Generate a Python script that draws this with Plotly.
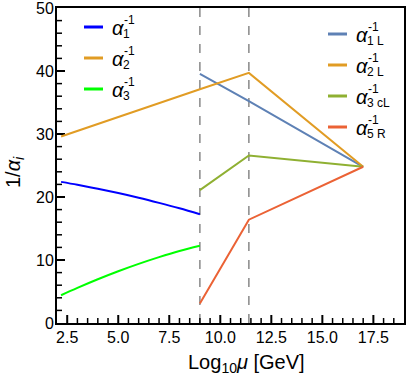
import plotly.graph_objects as go

# ---- data ----
x_sm = [2.2, 3, 4, 5, 6, 7, 8, 9]
a1_sm = [22.4, 21.94, 21.31, 20.62, 19.88, 19.07, 18.21, 17.27]
a3_sm = [4.4, 5.57, 6.94, 8.21, 9.38, 10.45, 11.42, 12.25]
x_a2_sm = [2.2, 9]
a2_sm = [29.6, 37.1]

x_bsm = [9, 11.4, 17]
a1L = [39.55, 35.2, 24.8]
a2L = [37.1, 39.7, 24.8]
a3cL = [21.1, 26.6, 24.8]
a5R = [3.1, 16.4, 24.8]

thresholds = [9, 11.4]

x_major = [2.5, 5.0, 7.5, 10.0, 12.5, 15.0, 17.5]
x_minor = [v / 2 for v in range(5, 38)]
y_major = [0, 10, 20, 30, 40, 50]
y_minor = list(range(2, 50, 2))

BLUE = "#0000FF"
GREEN = "#00FF00"
C1 = "#5E81B5"
C2 = "#E19C24"
C3 = "#8FB032"
C5 = "#EB6235"

FONT = "Liberation Sans, Arial, sans-serif"

# plot-area geometry (pixels)
W, H = 407, 383
L, R, T, B = 57, 3, 8, 60
pw, ph = W - L - R, H - T - B
XR = [2, 19]
YR = [0, 50]

def px(xp):
    return (xp - L) / pw

def py(yp):
    return (H - B - yp) / ph

fig = go.Figure()

# tick marks as line segments (inside, bottom and left)
ux = (XR[1] - XR[0]) / pw   # data units per pixel (x)
uy = (YR[1] - YR[0]) / ph   # data units per pixel (y)
tx_maj, ty_maj, tx_min, ty_min = [], [], [], []
for v in x_minor:
    if any(abs(v - m) < 1e-9 for m in x_major):
        tx_maj += [v, v, None]; ty_maj += [YR[0], YR[0] + 8 * uy, None]
    else:
        tx_min += [v, v, None]; ty_min += [YR[0], YR[0] + 5 * uy, None]
for v in y_minor:
    if v in y_major:
        tx_maj += [XR[0], XR[0] + 8 * ux, None]; ty_maj += [v, v, None]
    else:
        tx_min += [XR[0], XR[0] + 5 * ux, None]; ty_min += [v, v, None]
fig.add_trace(go.Scatter(x=tx_maj, y=ty_maj, mode="lines", line=dict(color="black", width=2),
                         hoverinfo="skip", cliponaxis=False))
fig.add_trace(go.Scatter(x=tx_min, y=ty_min, mode="lines", line=dict(color="black", width=1.5),
                         hoverinfo="skip", cliponaxis=False))

lw = 2
fig.add_trace(go.Scatter(x=x_sm, y=a1_sm, mode="lines", line=dict(color=BLUE, width=lw, shape="spline")))
fig.add_trace(go.Scatter(x=x_a2_sm, y=a2_sm, mode="lines", line=dict(color=C2, width=lw)))
fig.add_trace(go.Scatter(x=x_sm, y=a3_sm, mode="lines", line=dict(color=GREEN, width=lw, shape="spline")))
fig.add_trace(go.Scatter(x=x_bsm, y=a1L, mode="lines", line=dict(color=C1, width=lw)))
fig.add_trace(go.Scatter(x=x_bsm, y=a2L, mode="lines", line=dict(color=C2, width=lw)))
fig.add_trace(go.Scatter(x=x_bsm, y=a3cL, mode="lines", line=dict(color=C3, width=lw)))
fig.add_trace(go.Scatter(x=x_bsm, y=a5R, mode="lines", line=dict(color=C5, width=lw)))

for t in thresholds:
    fig.add_shape(type="line", xref="x", yref="paper", x0=t, x1=t, y0=0, y1=1,
                  line=dict(color="#888888", width=1.5, dash="dash"), layer="below")

annotations = []
shapes = []

def legend_entry(x0, x1, y, color, sub, sup="-1"):
    shapes.append(dict(type="line", xref="paper", yref="paper", x0=px(x0), x1=px(x1),
                       y0=py(y), y1=py(y), line=dict(color=color, width=3)))
    ax = x1 + 7
    annotations.append(dict(xref="paper", yref="paper", x=px(ax), y=py(y + 1), text="<i>α</i>",
                            showarrow=False, xanchor="left", yanchor="middle",
                            font=dict(family=FONT, size=20, color="black")))
    annotations.append(dict(xref="paper", yref="paper", x=px(ax + 12), y=py(y - 7), text=sup,
                            showarrow=False, xanchor="left", yanchor="middle",
                            font=dict(family=FONT, size=12, color="black")))
    annotations.append(dict(xref="paper", yref="paper", x=px(ax + 11), y=py(y + 7), text=sub,
                            showarrow=False, xanchor="left", yanchor="middle",
                            font=dict(family=FONT, size=12, color="black")))

left_labels = ["1", "2", "3"]
left_colors = [BLUE, C2, GREEN]
left_ys = [27, 58, 89]
for lab, c, yy in zip(left_labels, left_colors, left_ys):
    legend_entry(84, 103, yy, c, lab)

right_labels = ["1 L", "2 L", "3 cL", "5 R"]
right_colors = [C1, C2, C3, C5]
right_ys = [34, 65, 96, 127]
for lab, c, yy in zip(right_labels, right_colors, right_ys):
    legend_entry(328, 347, yy, c, lab)

# axis titles
annotations.append(dict(xref="paper", yref="paper", x=px(246), y=py(363),
                        text="Log<sub>10</sub><i>μ</i> [GeV]", showarrow=False,
                        xanchor="center", yanchor="middle",
                        font=dict(family=FONT, size=20, color="black")))
annotations.append(dict(xref="paper", yref="paper", x=px(15), y=py(172),
                        text="1/<i>α</i><sub><i>i</i></sub>", showarrow=False, textangle=-90,
                        xanchor="center", yanchor="middle",
                        font=dict(family=FONT, size=20, color="black")))

fig.update_layout(
    width=W, height=H,
    margin=dict(l=L, r=R, t=T, b=B, autoexpand=False),
    paper_bgcolor="white", plot_bgcolor="white",
    showlegend=False,
    annotations=annotations,
    font=dict(family=FONT, size=16, color="black"),
)
for s in shapes:
    fig.add_shape(**s)

fig.update_xaxes(range=XR, tickvals=x_major, tickformat=".1f", ticks="",
                 showline=True, linecolor="black", linewidth=2, mirror=True,
                 ticklabelstandoff=-1, ticklabeloverflow="allow", automargin=False,
                 showgrid=False, zeroline=False, tickfont=dict(size=16))
fig.update_yaxes(range=YR, tickvals=y_major, ticks="",
                 showline=True, linecolor="black", linewidth=2, mirror=True,
                 ticklabelstandoff=-2, ticklabeloverflow="allow", automargin=False,
                 showgrid=False, zeroline=False, tickfont=dict(size=16))

fig.write_html("out.html", config={"displayModeBar": False},
               post_script="document.body.style.margin='0';document.body.style.padding='0';")
